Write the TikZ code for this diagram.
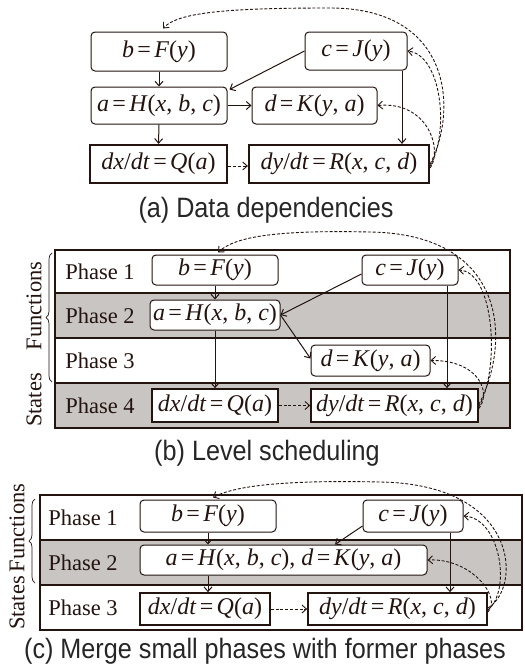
\documentclass[tikz,border=0pt]{standalone}
\usepackage{fontspec}
\setmainfont{Liberation Serif}
\newfontfamily\capfont[FakeStretch=0.9]{Liberation Sans}
\usetikzlibrary{arrows.meta,decorations.pathreplacing}
\definecolor{ink}{RGB}{35,20,16}
\definecolor{rowgray}{RGB}{200,197,195}
\newcommand\vi[1]{\textit{#1}}
\newcommand\eqs{\hspace{0.14em}=\hspace{0.14em}}
\begin{document}
\begin{tikzpicture}[x=1pt,y=-1pt,
  every node/.style={font=\fontsize{24}{28}\selectfont, text=ink, inner sep=0pt},
  fbox/.style={draw=ink, line width=1pt, rounded corners=4pt, fill=white},
  sbox/.style={draw=ink, line width=#1, fill=white},
  sbox/.default=1.7pt,
  arr/.style={draw=ink, line width=1pt, -{Straight Barb[length=4.5pt,width=8pt]}},
  darr/.style={arr, line width=0.9pt, dash pattern=on 3pt off 1.8pt},
  tline/.style={draw=ink, line width=2.6pt},
  lab/.style={font=\fontsize{22.5}{26}\selectfont},
  captxt/.style={font=\capfont\fontsize{28}{30}\selectfont, text=black!85, anchor=base},
  brc/.style={draw=ink, line width=0.7pt, decorate, decoration={brace, amplitude=6pt}}]
\useasboundingbox (0,0) rectangle (525,667);
\fill[white] (0,0) rectangle (525,667);

% ---------------- (a) ----------------
\node[fbox, minimum width=136, minimum height=39] (bA) at (159,51.5) {\vi{b}\eqs\vi{F}(\vi{y})};
\node[fbox, minimum width=102, minimum height=38] (cA) at (356,51) {\vi{c}\eqs\vi{J}(\vi{y})};
\node[fbox, minimum width=136, minimum height=37] (aA) at (159,105.5) {\vi{a}\eqs\vi{H}(\vi{x}, \vi{b}, \vi{c})};
\node[fbox, minimum width=125, minimum height=37] (dA) at (314.5,105.5) {\vi{d}\eqs\vi{K}(\vi{y}, \vi{a})};
\node[sbox=2.3pt, minimum width=137, minimum height=38] (dxA) at (158.5,164) {\vi{dx}/\vi{dt}\eqs\vi{Q}(\vi{a})};
\node[sbox=2.3pt, minimum width=180, minimum height=38] (dyA) at (339,164) {\vi{dy}/\vi{dt}\eqs\vi{R}(\vi{x}, \vi{c}, \vi{d})};
\draw[arr] (bA.south) -- (aA.north);
\draw[arr] (aA.south) -- (dxA.north);
\draw[arr] (cA.west) -- ([xshift=2pt,yshift=-3pt]aA.north east);
\draw[arr] (aA.east) -- (dA.west);
\draw[arr] ([xshift=46pt]cA.south) -- ([xshift=46pt]cA.south |- dyA.north);
\draw[darr] ([yshift=-2pt]dxA.east) -- ([yshift=-2pt]dyA.west);
\draw[darr] ([yshift=-4pt]dyA.east) .. controls (443,150) and (428,101) .. (dA.east);
\draw[darr] ([yshift=-2pt]dyA.east) .. controls (450,130) and (441,55) .. (cA.east);
\draw[darr] (dyA.east) .. controls (458,110) and (452,8) .. (330,8)
  .. controls (230,8) and (178,12) .. ([xshift=4pt,yshift=3pt]bA.north);
\node[captxt] (capA) at (266,217) {(a) Data dependencies};

% ---------------- (b) ----------------
\fill[rowgray] (55,293) rectangle (510,338);
\fill[rowgray] (55,383) rectangle (510,428);
\draw[tline] (55,293) -- (510,293);
\draw[tline] (55,338) -- (510,338);
\draw[tline] (55,383) -- (510,383);
\draw[tline] (55,250) rectangle (510,428);
\node[lab] (ph1B) at (100,271.5) {Phase 1};
\node[lab] (ph2B) at (100,315.5) {Phase 2};
\node[lab] (ph3B) at (100,360.5) {Phase 3};
\node[lab] (ph4B) at (100,405.5) {Phase 4};
\node[lab, rotate=90] (fnB) at (34,306) {Functions};
\node[lab, rotate=90] (stB) at (34,400) {States};
\draw[brc] (52,382) -- (52,253);
\node[fbox, minimum width=126, minimum height=30] (bB) at (215,270) {\vi{b}\eqs\vi{F}(\vi{y})};
\node[fbox, minimum width=96, minimum height=30] (cB) at (410,270) {\vi{c}\eqs\vi{J}(\vi{y})};
\node[fbox, minimum width=130, minimum height=30] (aB) at (215,315) {\vi{a}\eqs\vi{H}(\vi{x}, \vi{b}, \vi{c})};
\node[fbox, minimum width=119, minimum height=31] (dB) at (370.5,360.5) {\vi{d}\eqs\vi{K}(\vi{y}, \vi{a})};
\node[sbox, minimum width=126, minimum height=33] (dxB) at (215,405.5) {\vi{dx}/\vi{dt}\eqs\vi{Q}(\vi{a})};
\node[sbox, minimum width=167, minimum height=33] (dyB) at (394.5,405.5) {\vi{dy}/\vi{dt}\eqs\vi{R}(\vi{x}, \vi{c}, \vi{d})};
\draw[arr] (bB.south) -- (aB.north);
\draw[arr] (aB.south) -- (dxB.north);
\draw[arr] ([yshift=-4pt]cB.west) -- (aB.east);
\draw[arr] (aB.east) -- ([yshift=2pt]dB.west);
\draw[arr] ([xshift=37pt]cB.south) -- ([xshift=37pt]cB.south |- dyB.north);
\draw[darr] (dxB.east) -- (dyB.west);
\draw[darr] ([yshift=-3pt]dyB.east) .. controls (492,392) and (478,360) .. (dB.east);
\draw[darr] ([yshift=-1pt]dyB.east) .. controls (500,370) and (495,272) .. (cB.east);
\draw[darr] ([yshift=1pt]dyB.east) .. controls (512,340) and (506,234) .. (370,232)
  .. controls (280,230) and (235,236) .. ([xshift=3pt,yshift=2pt]bB.north);
\node[captxt] (capB) at (267,460) {(b) Level scheduling};

% ---------------- (c) ----------------
\fill[rowgray] (40,540) rectangle (522,585);
\draw[tline] (40,540) -- (522,540);
\draw[tline] (40,585) -- (522,585);
\draw[tline] (40,495) rectangle (522,630);
\node[lab] (ph1C) at (83,517.5) {Phase 1};
\node[lab] (ph2C) at (83,562.5) {Phase 2};
\node[lab] (ph3C) at (83,607.5) {Phase 3};
\node[lab, rotate=90] (fnC) at (17,528) {Functions};
\node[lab, rotate=90] (stC) at (17,603) {States};
\draw[brc] (35,583) -- (35,499);
\node[fbox, minimum width=136, minimum height=32] (bC) at (208,516) {\vi{b}\eqs\vi{F}(\vi{y})};
\node[fbox, minimum width=100, minimum height=32] (cC) at (413,516) {\vi{c}\eqs\vi{J}(\vi{y})};
\node[fbox, minimum width=287, minimum height=30] (mC) at (283.5,560) {\vi{a}\eqs\vi{H}(\vi{x}, \vi{b}, \vi{c}), \vi{d}\eqs\vi{K}(\vi{y}, \vi{a})};
\node[sbox, minimum width=130, minimum height=32] (dxC) at (205,609) {\vi{dx}/\vi{dt}\eqs\vi{Q}(\vi{a})};
\node[sbox, minimum width=179, minimum height=32] (dyC) at (397.5,609) {\vi{dy}/\vi{dt}\eqs\vi{R}(\vi{x}, \vi{c}, \vi{d})};
\draw[arr] (bC.south) -- (bC.south |- mC.north);
\draw[arr] (bC.south |- mC.south) -- (bC.south |- dxC.north);
\draw[arr] ([yshift=-10pt]cC.west) -- ([xshift=51.5pt]mC.north);
\draw[arr] ([xshift=37pt]cC.south) -- ([xshift=37pt]cC.south |- dyC.north);
\draw[darr] (dxC.east) -- (dyC.west);
\draw[darr] ([yshift=-3pt]dyC.east) .. controls (502,598) and (472,558) .. (mC.east);
\draw[darr] ([yshift=-1pt]dyC.east) .. controls (512,590) and (500,518) .. (cC.east);
\draw[darr] ([yshift=1pt]dyC.east) .. controls (522,588) and (520,484) .. (380,482)
  .. controls (290,480) and (236,485) .. ([xshift=5pt,yshift=2pt]bC.north);
\node[captxt] (capC) at (265,658) {(c) Merge small phases with former phases};
\end{tikzpicture}
\end{document}
